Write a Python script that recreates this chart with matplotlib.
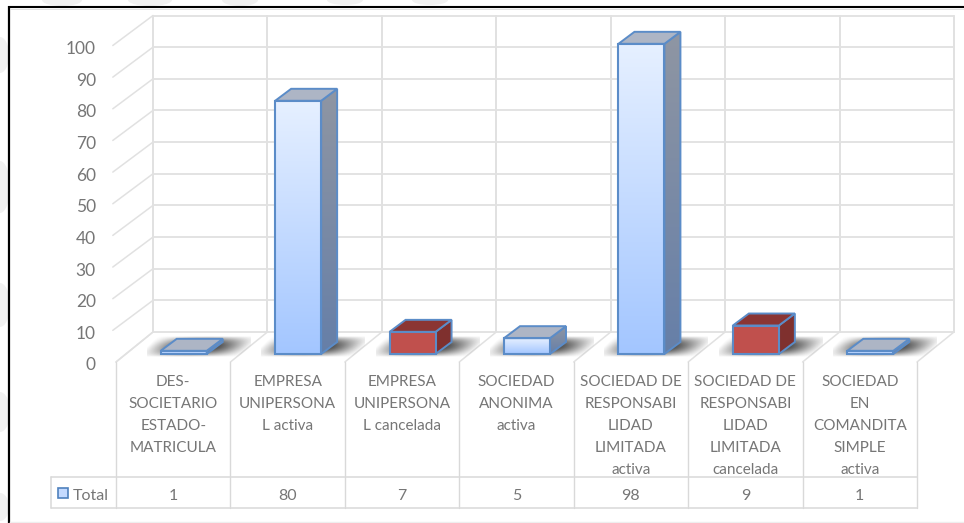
import numpy as np
import matplotlib
matplotlib.use("Agg")
import matplotlib.pyplot as plt
from matplotlib.patches import Polygon, Ellipse, Rectangle
from matplotlib.colors import LinearSegmentedColormap
from matplotlib.transforms import ScaledTranslation

# ---- data ----
categories = [
    "DES-\nSOCIETARIO\nESTADO-\nMATRICULA",
    "EMPRESA\nUNIPERSONA\nL activa",
    "EMPRESA\nUNIPERSONA\nL cancelada",
    "SOCIEDAD\nANONIMA\nactiva",
    "SOCIEDAD DE\nRESPONSABI\nLIDAD\nLIMITADA\nactiva",
    "SOCIEDAD DE\nRESPONSABI\nLIDAD\nLIMITADA\ncancelada",
    "SOCIEDAD\nEN\nCOMANDITA\nSIMPLE\nactiva",
]
values = [1, 80, 7, 5, 98, 9, 1]
is_red = [False, False, True, False, False, True, False]
series_name = "Total"
y_ticks = list(range(0, 101, 10))

# ---- figure geometry (pixels) ----
W, H = 964, 523
plt.rcParams["font.family"] = ["Lato", "DejaVu Sans"]
TXT = "#767676"
GRID = "#e1e1e1"
TBL = "#d9d9d9"
fig = plt.figure(figsize=(W / 100, H / 100), dpi=100, facecolor="white")

bg = fig.add_axes([0, 0, 1, 1], zorder=0)
bg.set_xlim(0, W); bg.set_ylim(H, 0); bg.axis("off")
for cx, cy, rx, ry in [(62, 0, 20, 6), (150, 0, 22, 6), (240, 0, 18, 6), (345, 0, 18, 5),
                       (430, 0, 18, 5), (0, 55, 9, 18), (0, 187, 10, 26), (0, 305, 10, 22),
                       (0, 412, 10, 20), (0, 507, 9, 14)]:
    bg.add_patch(Ellipse((cx, cy), 2 * rx, 2 * ry, color="#f1f1f1", lw=0))
bg.plot([8.5, 8.5], [6, H], color="black", lw=1.6, solid_capstyle="butt")
bg.plot([8, W], [7, 7], color="black", lw=1.5, solid_capstyle="butt")
bg.plot([10, W], [9, 9], color="#dddddd", lw=0.6)
bg.plot([10, W], [522, 522], color="#eeeeee", lw=1)

LEFT, RIGHT, Y0, Y100 = 116, 917, 362, 45.5
ax = fig.add_axes([LEFT / W, 1 - Y0 / H, (RIGHT - LEFT) / W, (Y0 - Y100) / H], zorder=1)
ax.patch.set_alpha(0)
ax.set_xlim(0, len(categories))
ax.set_ylim(0, 100)
for s in ax.spines.values():
    s.set_visible(False)

ux = (RIGHT - LEFT) / len(categories)   # px per category
uy = (Y0 - Y100) / 100                  # px per value unit
DX, DY = 37 / ux, 30 / uy               # wall depth in data units
BX, BY = 10.5 / ux, 8 / uy              # bar offset from the front plane
BW = 46 / ux
SX, SY = 16 / ux, 12 / uy               # bar depth
TOP = y_ticks[-1]
n = len(categories)
row_top, row_bot = (Y0 - 477) / uy, (Y0 - 508) / uy
row_left = (51 - LEFT) / ux
kw = dict(clip_on=False, zorder=1, solid_capstyle="round")

# walls
for v in y_ticks:
    ax.plot([DX, DX + n], [v + DY, v + DY], color=GRID, lw=1.3, **kw)
    x0 = -0.028 if v else 0
    ax.plot([x0, DX], [v, v + DY], color=GRID, lw=1.1, **kw)
for c in range(n + 1):
    ax.plot([c + DX, c + DX], [DY, TOP + DY], color=GRID, lw=1.4, **kw)
    ax.plot([c, c + DX], [0, DY], color=GRID, lw=1.1, **kw)
    ax.plot([c, c], [0, row_bot], color=TBL, lw=1.0, **kw)
ax.plot([row_left, n], [row_top, row_top], color=TBL, lw=1.1, **kw)
ax.plot([row_left, n], [row_bot, row_bot], color=TBL, lw=1.1, **kw)
ax.plot([row_left, row_left], [row_top, row_bot], color=TBL, lw=1.1, **kw)

# shadow texture: soft window that fades to nothing on every edge
gx, gy = np.meshgrid(np.linspace(-1, 1, 160), np.linspace(-1, 1, 60))
sx = np.clip((gx - 0.2 * gy) / 1.0, -1, 1)
alpha = np.cos(np.pi / 2 * sx) ** 1.1 * np.cos(np.pi / 2 * gy) ** 0.9 * 1.0
shadow = np.zeros(gx.shape + (4,))
shadow[..., 0:3] = 0.18
shadow[..., 3] = alpha

blue_front = LinearSegmentedColormap.from_list("bf", ["#e6f0ff", "#a3c6ff"])
blue_side = LinearSegmentedColormap.from_list("bs", ["#8f96a3", "#667fa8"])
ramp = np.linspace(0, 1, 128)[:, None]
EDGE = "#5b8cc8"
centers = np.arange(n) + 0.5

bars = ax.bar(centers + BX, values, width=BW, bottom=BY, facecolor="none",
              edgecolor=EDGE, linewidth=1.5, clip_on=False, zorder=6)
for xc, val, red, bar in zip(centers + BX, values, is_red, bars):
    l, r = xc - BW / 2, xc + BW / 2
    t = BY + val
    # shadow on the floor
    ax.imshow(shadow, extent=(l - 14 / ux, r + 44 / ux, BY - 3 / uy, BY + 18 / uy),
              aspect="auto", origin="lower", zorder=2, clip_on=False, interpolation="bilinear")
    side = Polygon([(r, BY), (r + SX, BY + SY), (r + SX, t + SY), (r, t)],
                   closed=True, facecolor="#7f302e" if red else "none",
                   edgecolor=EDGE, lw=1.4, clip_on=False, zorder=5)
    top = Polygon([(l, t), (l + SX, t + SY), (r + SX, t + SY), (r, t)],
                  closed=True, facecolor="#8b3533" if red else "#adb5c5",
                  edgecolor=EDGE, lw=1.4, clip_on=False, zorder=5)
    ax.add_patch(side); ax.add_patch(top)
    if red:
        bar.set_facecolor("#c0504d")
    else:
        front_im = ax.imshow(ramp, cmap=blue_front, aspect="auto", origin="upper",
                             extent=(l, r, BY, t), zorder=4)
        front_clip = Rectangle((l, BY), BW, val, transform=ax.transData)
        front_im.set_clip_path(front_clip)
        front_im.set_clip_box(fig.bbox)
        side_im = ax.imshow(ramp, cmap=blue_side, aspect="auto", origin="upper",
                            extent=(r, r + SX, BY, t + SY), zorder=4)
        side_im.set_clip_path(Polygon(side.get_xy(), closed=True, transform=ax.transData))
        side_im.set_clip_box(fig.bbox)

ax.set_xlim(0, n); ax.set_ylim(0, 100)

# axis text
ax.set_yticks(y_ticks)
ax.set_yticklabels([str(v) for v in y_ticks])
ax.tick_params(axis="y", length=0, pad=14.5, labelsize=12.5, labelcolor=TXT)
down = ScaledTranslation(0, -2 / 100, fig.dpi_scale_trans)
for lab in ax.get_yticklabels():
    lab.set_transform(lab.get_transform() + down)
ax.set_xticks(centers)
ax.set_xticklabels(categories, linespacing=1.73, ha="center", va="top")
ax.tick_params(axis="x", length=0, pad=9.5, labelsize=11, labelcolor=TXT)

# data row
row_mid = (row_top + row_bot) / 2 - 3 / uy
for xc, val in zip(centers, values):
    ax.text(xc, row_mid, str(val), ha="center", va="center", fontsize=11.5,
            color=TXT, clip_on=False)
ax.text((73 - LEFT) / ux, row_mid, series_name, ha="left", va="center", fontsize=11.5,
        color=TXT, clip_on=False)
ax.add_patch(Rectangle(((58 - LEFT) / ux, (Y0 - 498) / uy), 10 / ux, 10 / uy,
                       facecolor="#c4daff", edgecolor="#4f81bd", lw=1.2, clip_on=False, zorder=5))

fig.savefig("out.png", dpi=100)
